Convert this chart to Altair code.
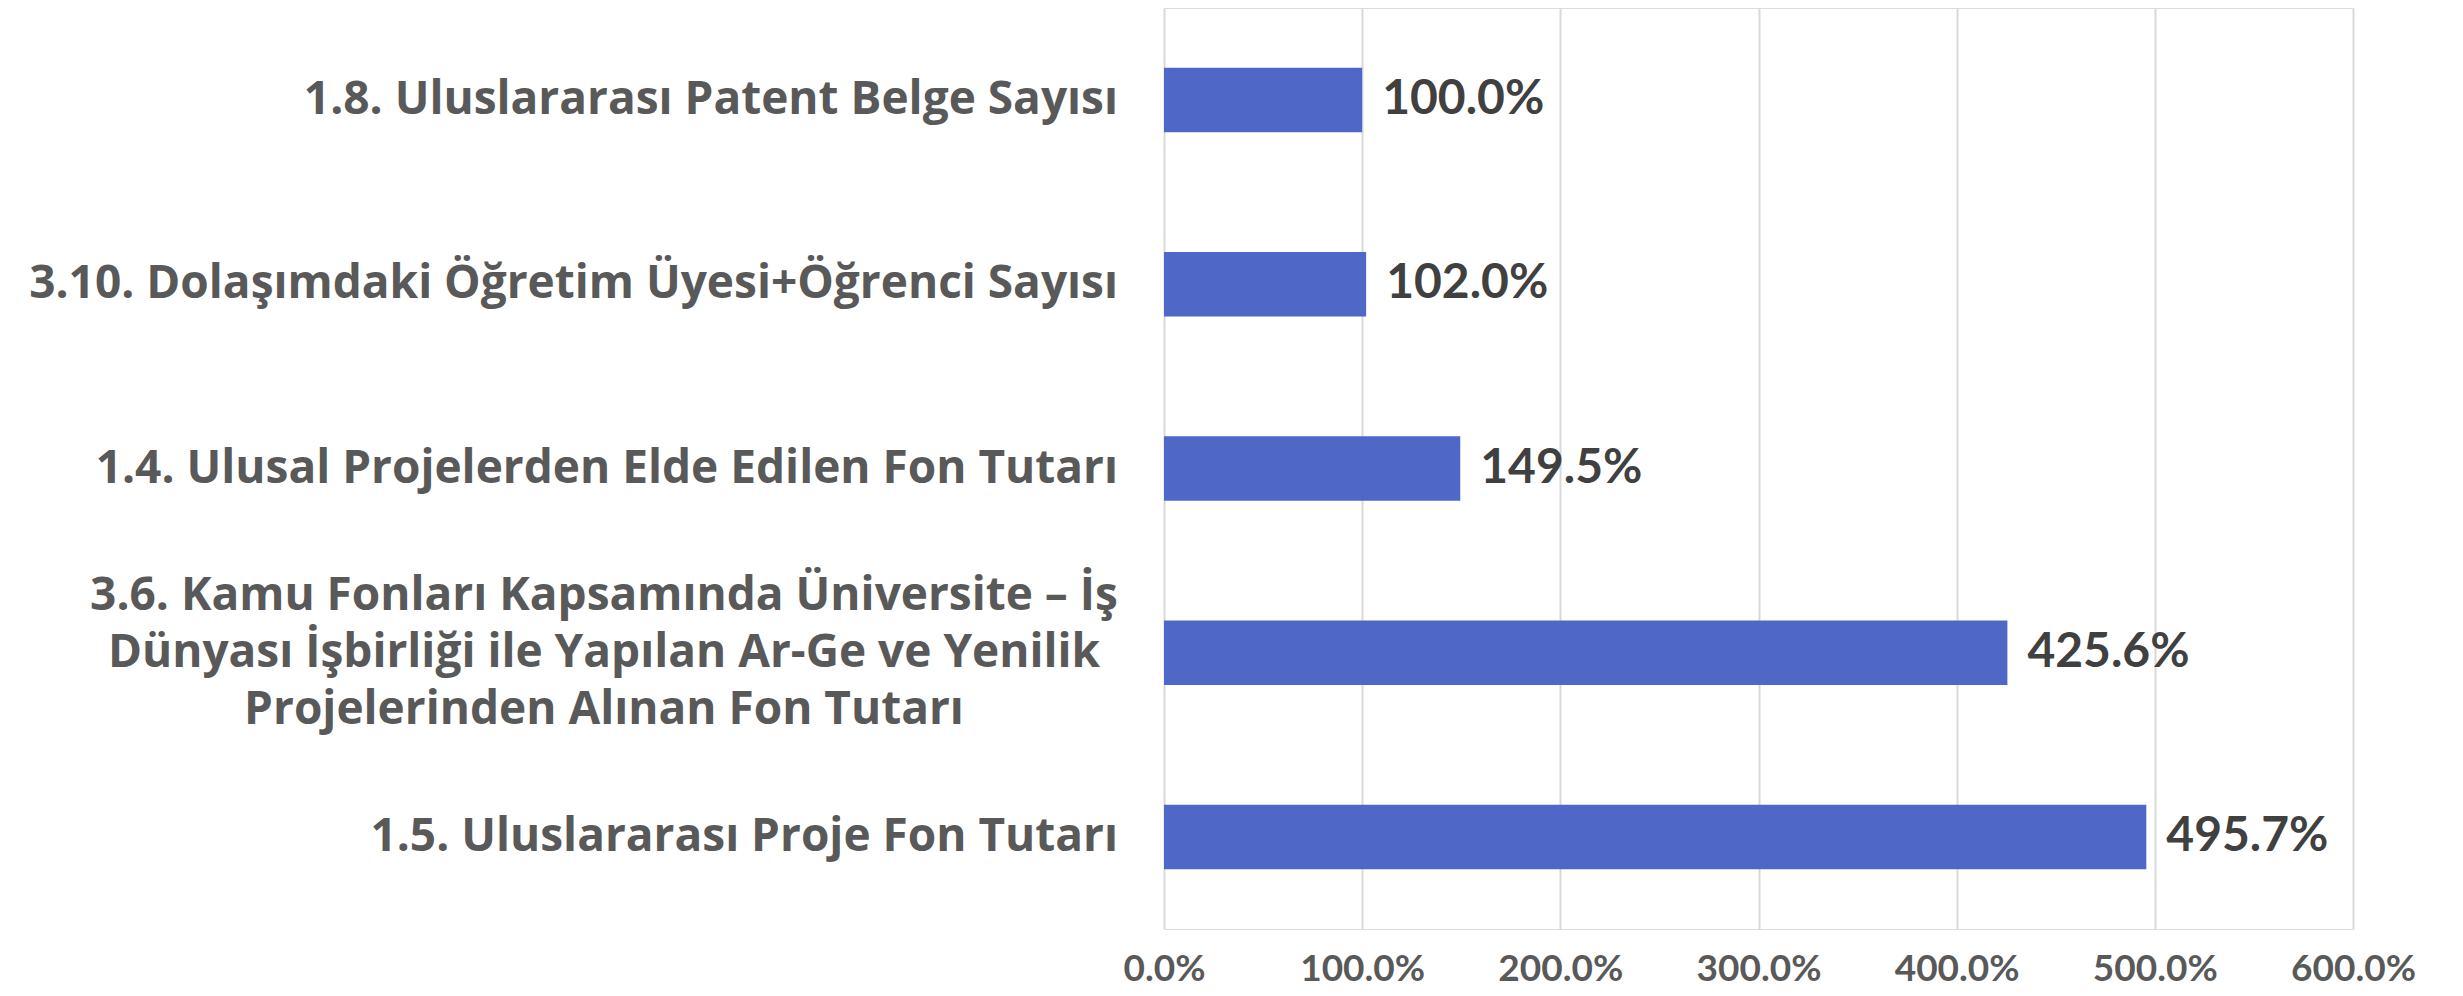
import altair as alt
import pandas as pd

categories = [
    "1.8. Uluslararası Patent Belge Sayısı",
    "3.10. Dolaşımdaki Öğretim Üyesi+Öğrenci Sayısı",
    "1.4. Ulusal Projelerden Elde Edilen Fon Tutarı",
    "3.6. Kamu Fonları Kapsamında Üniversite – İş\nDünyası İşbirliği ile Yapılan Ar-Ge ve Yenilik\nProjelerinden Alınan Fon Tutarı",
    "1.5. Uluslararası Proje Fon Tutarı",
]
values = [1.000, 1.020, 1.495, 4.256, 4.957]
multiline = [False, False, False, True, False]
x_ticks = [0, 1, 2, 3, 4, 5, 6]

df = pd.DataFrame({"cat": categories, "value": values, "multi": multiline})

NUM_FONT = "Lato"
CAT_FONT = "Open Sans"
BAR = "#4F67C7"

y_enc = alt.Y(
    "cat:N",
    sort=categories,
    scale=alt.Scale(paddingInner=0.65, paddingOuter=0.325),
    axis=None,
)

base = alt.Chart(df)

bars = base.mark_bar(color=BAR).encode(
    x=alt.X(
        "value:Q",
        scale=alt.Scale(domain=[0, 6], nice=False),
        axis=alt.Axis(
            values=x_ticks,
            format=".1%",
            title=None,
            grid=True,
            gridColor="#D9D9D9",
            gridWidth=2,
            domain=False,
            ticks=False,
            labelFlush=False,
            labelFont=NUM_FONT,
            labelFontSize=37,
            labelFontWeight="bold",
            labelColor="#595959",
            labelPadding=22,
        ),
    ),
    y=y_enc,
)

values_text = base.mark_text(
    align="left",
    baseline="middle",
    dx=20,
    font=NUM_FONT,
    fontSize=48,
    fontWeight="bold",
    color="#404040",
).encode(
    x="value:Q",
    y=y_enc,
    text=alt.Text("value:Q", format=".1%"),
)

single_labels = base.transform_filter("!datum.multi").mark_text(
    align="right",
    baseline="middle",
    font=CAT_FONT,
    fontSize=46,
    fontWeight="bold",
    color="#595959",
).encode(
    x=alt.value(-46),
    y=y_enc,
    text="cat:N",
)

multi_labels = base.transform_filter("datum.multi").mark_text(
    align="center",
    baseline="middle",
    lineBreak="\n",
    lineHeight=57,
    dy=-57,
    font=CAT_FONT,
    fontSize=46,
    fontWeight="bold",
    color="#595959",
).encode(
    x=alt.value(-560),
    y=y_enc,
    text="cat:N",
)

chart = (
    alt.layer(bars, values_text, single_labels, multi_labels)
    .properties(
        width=1189,
        height=921,
        autosize=alt.AutoSizeParams(type="none"),
        padding={"left": 1156, "top": 0, "right": 100, "bottom": 59},
    )
    .configure_view(stroke=None)
    .configure(background="white")
)

chart.save("out.html", embed_options={"renderer": "svg", "actions": False})
